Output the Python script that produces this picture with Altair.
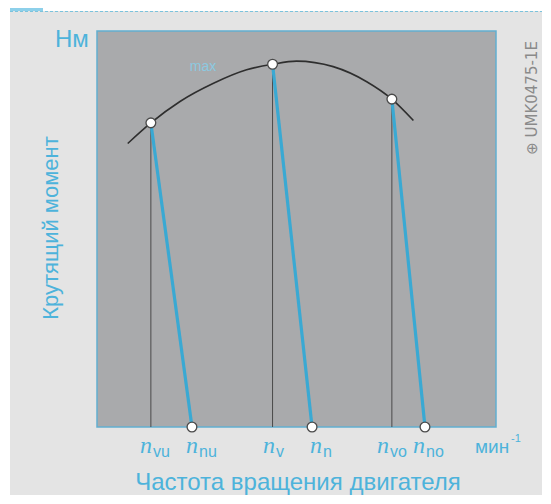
import altair as alt
import pandas as pd

# ---- data (arbitrary units: x = engine speed, y = torque, both 0..100) ----
curve_rpm = [7.7, 13.5, 20.8, 29.2, 37.5, 44.0, 50.0, 59.2, 67.6, 73.9, 79.3]
curve_torque = [71.6, 76.8, 82.2, 86.8, 90.2, 91.6, 92.4, 91.0, 87.2, 82.8, 77.4]

op_rpm = [13.5, 44.0, 73.9]        # n_vu, n_v, n_vo
op_torque = [76.8, 91.6, 82.8]
end_rpm = [23.8, 53.9, 82.2]       # n_nu, n_n, n_no

label_main = ["n", "n", "n", "n", "n", "n"]
label_sub = ["vu", "nu", "v", "n", "vo", "no"]
label_rpm = [10.8, 22.3, 41.6, 53.4, 70.2, 79.2]

BLUE = "#4db3db"
LINE_BLUE = "#3aa9d3"

curve_df = pd.DataFrame({"rpm": curve_rpm, "torque": curve_torque})
ops_df = pd.DataFrame({"rpm": op_rpm, "torque": op_torque, "end": end_rpm,
                       "zero": [0] * len(op_rpm)})
lab_df = pd.DataFrame({"pos": label_rpm, "n": label_main, "sub": label_sub})

xs = alt.Scale(domain=[0, 100], nice=False, zero=False)
ys = alt.Scale(domain=[0, 100], nice=False, zero=False)

X = alt.X("rpm:Q", scale=xs, axis=None)
Y = alt.Y("torque:Q", scale=ys, axis=None)

one = pd.DataFrame({"k": [0]})

# decorative top strip of the page
strip = alt.Chart(one).mark_rect(color="white").encode(
    x=alt.value(-89), x2=alt.value(446), y=alt.value(-23), y2=alt.value(-20))
block = alt.Chart(one).mark_rect(color="#8dd0ea").encode(
    x=alt.value(-89), x2=alt.value(-54), y=alt.value(-23), y2=alt.value(-20))
dash = alt.Chart(one).mark_rule(color="#7cc3dc", strokeDash=[3, 2], strokeWidth=1).encode(
    x=alt.value(-87), x2=alt.value(446), y=alt.value(-19.5))
left_white = alt.Chart(one).mark_rect(color="white").encode(
    x=alt.value(-89), x2=alt.value(-87), y=alt.value(-23), y2=alt.value(465))

guides = alt.Chart(ops_df).mark_rule(color="#4a4a4a", strokeWidth=1).encode(
    x=X, y=Y, y2="zero:Q")
blue = alt.Chart(ops_df).mark_rule(color=LINE_BLUE, strokeWidth=3.2).encode(
    x=X, y=Y, x2="end:Q", y2="zero:Q")
curve = alt.Chart(curve_df).mark_line(interpolate="monotone", color="#2e2e2e",
                                      strokeWidth=1.6).encode(x=X, y=Y)
top_pts = alt.Chart(ops_df).mark_circle(color="white", opacity=1, stroke="#4a4a4a",
                                        strokeWidth=1.3, size=95).encode(x=X, y=Y)
bot_pts = alt.Chart(ops_df).mark_circle(color="white", opacity=1, stroke="#4a4a4a",
                                        strokeWidth=1.3, size=95).encode(
    x=alt.X("end:Q", scale=xs, axis=None), y=alt.Y("zero:Q", scale=ys, axis=None))

n_txt = alt.Chart(lab_df).mark_text(font="Liberation Serif", fontStyle="italic",
                                    fontSize=24, color=BLUE, align="left",
                                    baseline="alphabetic").encode(
    x=alt.X("pos:Q", scale=xs, axis=None), y=alt.value(422), text="n:N")
sub_txt = alt.Chart(lab_df).mark_text(font="Liberation Sans", fontSize=16, color=BLUE,
                                      align="left", baseline="alphabetic", dx=13).encode(
    x=alt.X("pos:Q", scale=xs, axis=None), y=alt.value(426), text="sub:N")


def txt(s, x, y, **kw):
    base = dict(font="Liberation Sans", color=BLUE, baseline="alphabetic")
    base.update(kw)
    return alt.Chart(one).mark_text(**base).encode(
        x=alt.value(x), y=alt.value(y), text=alt.value(s))


unit_min = txt("мин", 378, 422, fontSize=19, align="left")
unit_pow = txt("-1", 414, 411, fontSize=11, align="left")
xtitle = txt("Частота вращения двигателя", 201, 459, fontSize=24, align="center")
ytitle = txt("Крутящий момент", -46, 197, fontSize=22, align="center",
             angle=270, baseline="middle")
nm = txt("Нм", -42, 16, fontSize=24, align="left")
mmax = txt("max", 106, 40, fontSize=14, align="center", color="#8cc9e0")
wm = txt("⊕ UMK0475-1E", 435, 67, fontSize=15, align="center", angle=270,
         baseline="middle", color="#8a8a8a", font="DejaVu Sans")

chart = alt.layer(
    strip, block, dash, left_white,
    guides, blue, curve, top_pts, bot_pts,
    n_txt, sub_txt, unit_min, unit_pow, xtitle, ytitle, nm, mmax, wm
).properties(
    width=399, height=396,
    autosize=alt.AutoSizeParams(type="none"),
    padding={"left": 89, "top": 23, "right": 46, "bottom": 68},
    background="#e4e4e4",
).configure_view(
    fill="#a9aaac", stroke="#62afd0", strokeWidth=1.5
)

chart.save("out.html", embed_options={"renderer": "svg", "actions": False})
